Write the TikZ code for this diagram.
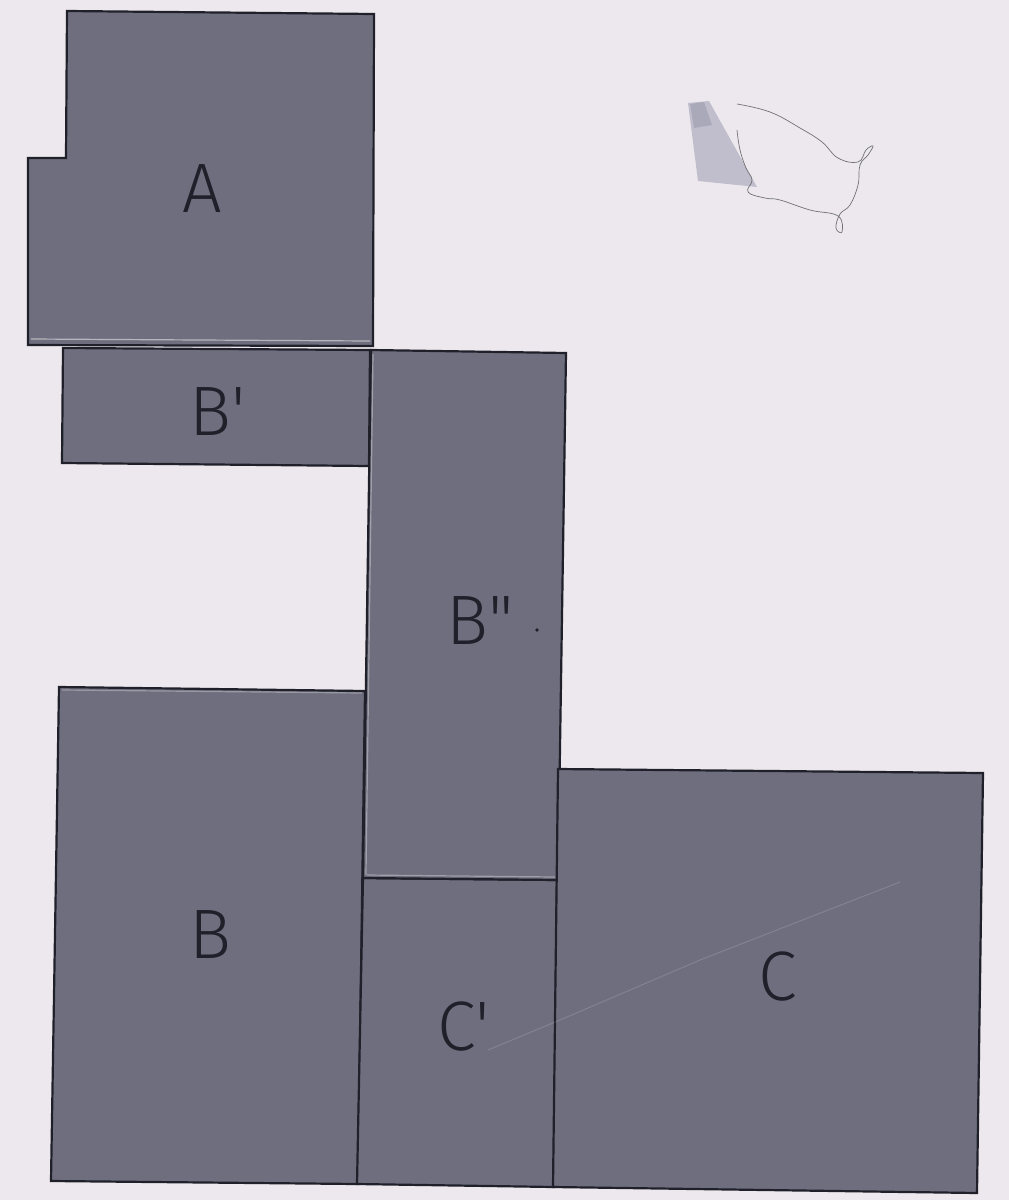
\documentclass[tikz,border=0pt]{standalone}
\usepackage{fontspec}
\IfFontExistsTF{Fira Sans Light}{\newfontfamily\labfont{Fira Sans Light}}{\newfontfamily\labfont{Liberation Sans}}
\definecolor{paper}{HTML}{ECE8ED}
\definecolor{card}{HTML}{6E6E7E}
\definecolor{ink}{HTML}{20202B}
\definecolor{smudge}{HTML}{9C9CB2}
\tikzset{
  piece/.style={fill=card, draw=ink, line width=2.2pt, line join=miter},
  lab/.style={font=\labfont\fontsize{70}{70}\selectfont, text=ink, inner sep=0pt, anchor=base west},
  crease/.style={draw=white, line width=1.2pt},
}
\begin{document}
\begin{tikzpicture}[x=1pt,y=-1pt]
\fill[paper] (0,0) rectangle (1009,1200);
\useasboundingbox (0,0) rectangle (1009,1200);
% faint smudge and thread at top right
\fill[smudge, opacity=0.55] (688,103) -- (709,101) -- (757,187) -- (698,181) -- cycle;
\fill[smudge!80!ink, opacity=0.35] (690,104) -- (704,102) -- (712,125) -- (694,128) -- cycle;
\draw[gray!85!ink, line width=0.7pt] plot[smooth, tension=0.7] coordinates {
  (737,104) (770,112) (800,128) (822,142) (838,158) (858,162) (866,150) (873,146) (868,155)
  (860,165) (858,185) (850,205) (840,214) (836,228) (842,232) (838,216) (810,210)
  (780,200) (765,198) (748,192) (752,180) (746,168) (740,150) (737,130) };
% A
\draw[piece] (67,11) -- (374,14) -- (373,346) -- (28,345) -- (28,158) -- (66,158) -- cycle;
\draw[crease, opacity=0.5] (31,339) -- (370,341);
% B'
\draw[piece] (63,348) -- (370,350) -- (369,466) -- (62,463) -- cycle;
% B
\draw[piece] (59,687) -- (365,691) -- (358,1184) -- (51,1181) -- cycle;
\draw[crease, opacity=0.3] (62,690) -- (362,693);
% C'
\draw[piece] (363,878) -- (557,880) -- (554,1187) -- (357,1184) -- cycle;
% B''
\draw[piece] (371,350) -- (566,353) -- (558,880) -- (363,878) -- cycle;
\draw[crease, opacity=0.35] (373,354) -- (366,875);
\draw[crease, opacity=0.35] (367,875) -- (555,877);
% C
\draw[piece] (558,769) -- (983,773) -- (977,1193) -- (553,1187) -- cycle;
\draw[crease, opacity=0.14, line width=1pt] (488,1050) -- (560,1020) -- (700,960) -- (900,882);
% labels
\node[lab] (la) at (182,212) {A};
\node[lab] (lbp) at (189,435) {B\textquotesingle};
\node[lab] (lbpp) at (446,644) {B\textquotedbl};
\fill[ink] (537,630) circle (1.8);
\node[lab] (lb) at (189,958) {B};
\node[lab] (lcp) at (437,1050) {C\textquotesingle};
\node[lab] (lc) at (758,1000) {C};
\end{tikzpicture}
\end{document}
